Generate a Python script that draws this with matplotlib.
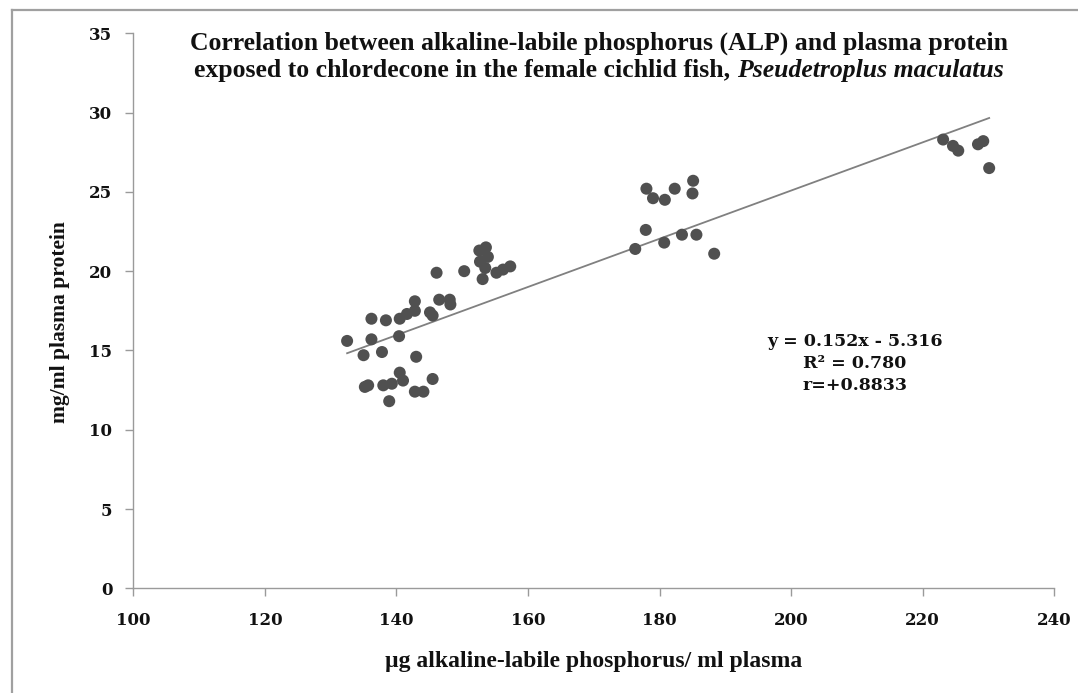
import matplotlib
matplotlib.use("Agg")
import matplotlib.pyplot as plt
from matplotlib.lines import Line2D
import numpy as np

# ---- data ----
alp = [146.1, 150.3, 152.6, 153.6, 153.9, 152.7, 153.5, 153.1, 155.2, 156.2,
       157.3, 142.8, 146.5, 148.1, 148.2, 136.2, 138.4, 140.5, 141.6, 142.8,
       145.1, 145.5, 140.4, 136.2, 135.0, 137.8, 143.0, 135.2, 135.7, 138.0,
       139.3, 140.5, 141.0, 145.5, 142.8, 144.1, 138.9, 132.5,
       178.0, 179.0, 180.8, 182.3, 185.1, 185.0, 177.9, 176.3, 180.7, 183.4,
       185.6, 188.3,
       223.1, 224.6, 225.4, 228.4, 229.2, 230.1]
protein = [19.9, 20.0, 21.3, 21.5, 20.9, 20.6, 20.2, 19.5, 19.9, 20.1,
           20.3, 18.1, 18.2, 18.2, 17.9, 17.0, 16.9, 17.0, 17.3, 17.5,
           17.4, 17.2, 15.9, 15.7, 14.7, 14.9, 14.6, 12.7, 12.8, 12.8,
           12.9, 13.6, 13.1, 13.2, 12.4, 12.4, 11.8, 15.6,
           25.2, 24.6, 24.5, 25.2, 25.7, 24.9, 22.6, 21.4, 21.8, 22.3,
           22.3, 21.1,
           28.3, 27.9, 27.6, 28.0, 28.2, 26.5]
slope, intercept = 0.152, -5.316
x_ticks = [100, 120, 140, 160, 180, 200, 220, 240]
y_ticks = [0, 5, 10, 15, 20, 25, 30, 35]

title_lines = ["Correlation between alkaline-labile phosphorus (ALP) and plasma protein",
               "exposed to chlordecone in the female cichlid fish, "]
title_italic = "Pseudetroplus maculatus"
x_label = "\u00b5g alkaline-labile phosphorus/ ml plasma"
y_label = "mg/ml plasma protein"
eq_lines = ["y = 0.152x - 5.316", "R\u00b2 = 0.780", "r=+0.8833"]

W, H = 1078, 693
fig = plt.figure(figsize=(W / 100, H / 100), dpi=100)
fig.patch.set_facecolor("white")

def fx(px):
    return px / W

def fy(py):
    return 1 - py / H

ax = fig.add_axes([fx(133.3), fy(588.3), fx(1054.3) - fx(133.3), fy(33.3) - fy(588.3)])
ax.set_xlim(100, 240)
ax.set_ylim(0, 35)

ax.scatter(alp, protein, s=75, color="#505050", edgecolors="none", zorder=3)
xs = np.array([min(alp), max(alp)])
ax.plot(xs, slope * xs + intercept, color="#808080", lw=1.3, zorder=2)

for s in ["top", "right"]:
    ax.spines[s].set_visible(False)
for s in ["left", "bottom"]:
    ax.spines[s].set_color("#9a9a9a")
    ax.spines[s].set_linewidth(1.0)

ax.set_xticks(x_ticks)
ax.set_yticks(y_ticks)
ax.tick_params(axis="both", direction="out", length=6, width=1.0, color="#9a9a9a")
ax.tick_params(axis="x", pad=11)
ax.tick_params(axis="y", pad=9)
tick_font = dict(family="DejaVu Serif", weight="bold", size=12)
ax.set_xticklabels([str(v) for v in x_ticks], fontdict=tick_font, color="#111111")
ax.set_yticklabels([str(v) for v in y_ticks], fontdict=tick_font, color="#111111")

fig.text(fx(594), fy(662), x_label, ha="center", va="center",
         family="Liberation Serif", weight="bold", size=17, color="#111111")
fig.text(fx(60), fy(322), y_label, ha="center", va="center", rotation=90,
         family="Liberation Serif", weight="bold", size=15.5, color="#111111")

# title
tfont = dict(family="Liberation Serif", weight="bold", size=18.5, color="#111111")
fig.text(fx(599), fy(43), title_lines[0], ha="center", va="center", **tfont)
t2 = fig.text(0, fy(70), title_lines[1], ha="left", va="center", **tfont)
t3 = fig.text(0, fy(70), title_italic, ha="left", va="center", style="italic", **tfont)
fig.canvas.draw()
r = fig.canvas.get_renderer()
w2 = t2.get_window_extent(r).width
w3 = t3.get_window_extent(r).width
start = 599 - (w2 + w3) / 2
t2.set_x(fx(start))
t3.set_x(fx(start + w2))

# equation
eq_font = dict(family="DejaVu Serif", weight="bold", size=12.5, color="#111111")
for i, line in enumerate(eq_lines):
    fig.text(fx(855), fy(341 + 22 * i), line, ha="center", va="center", **eq_font)

# outer frame (left and top)
fig.add_artist(Line2D([fx(12), fx(12)], [fy(10), 0], color="#a0a0a0", lw=1.6))
fig.add_artist(Line2D([fx(12), 1], [fy(10), fy(10)], color="#a0a0a0", lw=1.6))

fig.savefig("out.png", dpi=100, facecolor="white")
